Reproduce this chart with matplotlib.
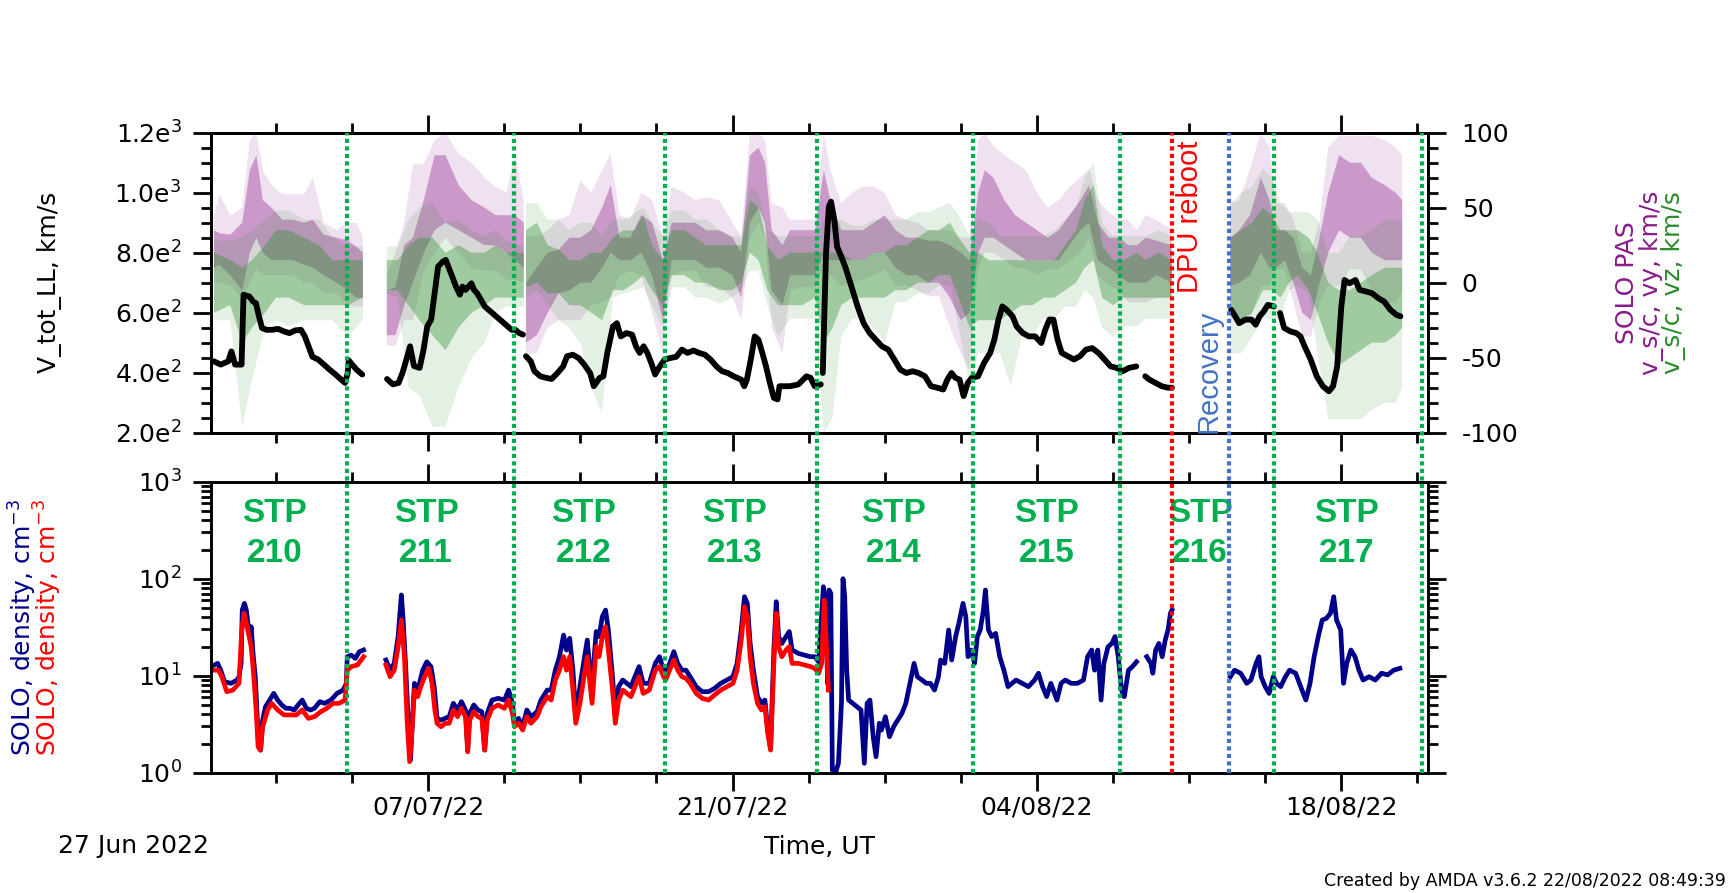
import numpy as np
import matplotlib
matplotlib.use("Agg")
import matplotlib.pyplot as plt
import matplotlib.dates as mdates
from matplotlib.ticker import MultipleLocator, FixedLocator, FuncFormatter, LogLocator, NullFormatter
from matplotlib.transforms import blended_transform_factory
from matplotlib.lines import Line2D

plt.rcParams['font.family'] = ['DejaVu Sans']
plt.rcParams['axes.unicode_minus'] = False

# ---------------- data (day offsets from START) ----------------
START = '2022-06-27'
END = '2022-08-22'

STP_BOUNDS = [6.26, 13.93, 20.89, 27.88, 35.04, 41.82, 48.91, 55.71]
STP_NUMS = [210, 211, 212, 213, 214, 215, 216, 217]
STP_LABEL_DAYS = [2.95, 9.9, 17.15, 24.1, 31.4, 38.45, 45.5, 52.25]
DPU_REBOOT_DAY = 44.2
RECOVERY_DAY = 46.83

# V_tot_LL (km/s): (day, value); None = data gap
VTOT = [
    (0.14, 438), (0.46, 427), (0.81, 438), (0.95, 471), (1.12, 427), (1.30, 427), (1.42, 427), (1.51, 660),
    (1.78, 654), (1.95, 637), (2.08, 632), (2.22, 588), (2.36, 549), (2.57, 543), (2.83, 543), (3.10, 546),
    (3.36, 538), (3.62, 532), (3.89, 541), (4.15, 543), (4.33, 521), (4.50, 488), (4.68, 453), (4.94, 444),
    (5.21, 427), (5.47, 410), (5.74, 394), (6.00, 377), (6.18, 366), (6.30, 399), (6.35, 441), (6.44, 433),
    (6.71, 410), (6.97, 394), None,
    (8.11, 379), (8.38, 361), (8.64, 366), (8.82, 399), (9.00, 444), (9.17, 488), (9.35, 422), (9.61, 416),
    (9.79, 477), (9.96, 554), (10.14, 577), (10.31, 671), (10.46, 754), (10.67, 770), (10.81, 776), (10.93, 754),
    (11.11, 720), (11.28, 687), (11.46, 660), (11.58, 687), (11.72, 676), (11.99, 698), (12.11, 676), (12.25, 665),
    (12.43, 643), (12.60, 621), (12.87, 604), (13.13, 588), (13.40, 571), (13.66, 554), (13.84, 543), (14.01, 543),
    (14.19, 532), (14.36, 527), None,
    (14.50, 455), (14.72, 438), (14.89, 405), (15.16, 388), (15.42, 383), (15.68, 379), (15.95, 399), (16.21, 421),
    (16.39, 455), (16.65, 460), (16.92, 449), (17.18, 427), (17.45, 399), (17.62, 355), (17.89, 383), (18.06, 388),
    (18.24, 466), (18.50, 554), (18.68, 565), (18.86, 521), (19.12, 532), (19.38, 527), (19.56, 488), (19.73, 466),
    (19.91, 488), (20.08, 466), (20.26, 433), (20.44, 394), (20.61, 416), (20.88, 444), (21.14, 449), (21.41, 453),
    (21.67, 477), (21.93, 466), (22.20, 474), (22.46, 466), (22.73, 460), (22.99, 444), (23.26, 421), (23.52, 405),
    (23.78, 399), (24.05, 388), (24.40, 377), (24.54, 355), (24.66, 377), (24.84, 444), (25.02, 521), (25.19, 510),
    (25.37, 466), (25.54, 421), (25.72, 366), (25.90, 316), (26.07, 311), (26.16, 355), (26.34, 355), (26.65, 355),
    (27.03, 361), (27.40, 388), (27.59, 383), (27.78, 355), (28.06, 361), None,
    (28.15, 399), (28.30, 798), (28.43, 953), (28.53, 970), (28.68, 909), (28.81, 820), (29.00, 787), (29.18, 754),
    (29.47, 687), (29.75, 621), (30.03, 565), (30.31, 532), (30.59, 510), (30.87, 488), (31.16, 477), (31.44, 444),
    (31.72, 410), (32.00, 399), (32.28, 405), (32.56, 399), (32.85, 388), (33.13, 355), (33.41, 350), (33.69, 344),
    (33.88, 377), (34.07, 399), (34.25, 383), (34.44, 377), (34.63, 322), (34.82, 366), (35.01, 383), (35.29, 388),
    (35.57, 433), (35.85, 466), (36.04, 510), (36.23, 577), (36.41, 621), (36.60, 610), (36.88, 588), (37.07, 554),
    (37.35, 532), (37.63, 521), (37.92, 521), (38.20, 499), (38.38, 543), (38.57, 577), (38.76, 577), (38.95, 510),
    (39.14, 466), (39.42, 455), (39.70, 444), (39.98, 455), (40.26, 477), (40.54, 482), (40.83, 466), (41.11, 444),
    (41.39, 421), (41.67, 416), (41.95, 405), (42.23, 416), (42.57, 421), None,
    (42.98, 388), (43.17, 377), (43.45, 366), (43.74, 355), (44.02, 350), (44.21, 350), None,
    (46.93, 610), (47.12, 588), (47.30, 565), (47.59, 577), (47.87, 577), (48.06, 560), (48.24, 588), (48.43, 604),
    (48.62, 626), (48.90, 621), None,
    (49.18, 599), (49.37, 549), (49.65, 538), (49.93, 532), (50.12, 521), (50.31, 488), (50.59, 444), (50.87, 388),
    (51.15, 355), (51.43, 338), (51.62, 355), (51.81, 421), (52.00, 621), (52.15, 709), (52.37, 698), (52.65, 709),
    (52.84, 676), (53.12, 671), (53.41, 665), (53.69, 649), (53.97, 637), (54.25, 610), (54.53, 593), (54.72, 588),
]

# SOLO PAS vy (km/s): (day, core_lo, core_hi, extreme_lo, extreme_hi)
VY_BANDS = [
    (0.15, 10, 35, 0, 45), (0.4, 12, 33, 0, 59), (0.9, 5, 32, -2, 45), (1.45, -5, 40, -10, 50),
    (1.8, 20, 75, 0, 95), (2.1, 30, 85, 10, 100), (2.4, 20, 55, 5, 75), (2.8, 15, 50, 5, 65),
    (3.3, 15, 42, 5, 59), (3.8, 15, 42, 5, 59), (4.3, 12, 40, 0, 59), (4.7, 10, 42, 0, 70),
    (5.2, 5, 32, -7, 40), (5.8, 0, 30, -7, 35), (6.3, -5, 28, -15, 40), (6.7, -10, 24, -16, 40),
    (7.0, -10, 20, -16, 30), None,
    (8.1, -35, -5, -42, 5), (8.5, -35, -3, -42, 20), (8.9, -15, 25, -25, 40), (9.3, 0, 30, -25, 79),
    (9.8, 20, 55, 8, 79), (10.3, 35, 85, 20, 95), (10.8, 40, 85, 30, 100), (11.4, 35, 65, 20, 86),
    (12.0, 30, 55, 10, 80), (12.6, 25, 50, 8, 70), (13.1, 25, 45, 8, 64), (13.6, 20, 45, 2, 60),
    (14.0, 15, 45, 2, 86), (14.4, 10, 40, 0, 55), None,
    (14.5, -40, 0, -47, 31), (15.0, -35, 10, -47, 31), (15.5, -20, 20, -30, 35), (16.0, -7, 22, -25, 42),
    (16.5, -5, 30, -25, 45), (17.0, 0, 30, -25, 68), (17.5, 0, 35, -15, 60), (18.0, 10, 50, -13, 75),
    (18.4, 20, 65, -10, 86), (18.8, 15, 30, 5, 45), (19.3, 15, 30, 8, 42), (19.8, 20, 45, 5, 60),
    (20.3, 5, 40, -20, 55), (20.8, -25, 15, -47, 31), (21.2, 15, 40, 5, 64), (21.8, 15, 40, 8, 60),
    (22.3, 15, 40, 8, 55), (22.8, 10, 35, -3, 57), (23.4, 10, 35, -3, 55), (24.0, 5, 30, -10, 40),
    (24.4, -10, 20, -25, 31), (24.8, 40, 85, 30, 100), (25.2, 50, 90, 40, 100), (25.5, 40, 80, 30, 95),
    (25.8, -5, 35, -30, 53), (26.3, -15, 25, -47, 50), (26.65, 5, 35, -5, 42), (27.2, 5, 35, -3, 42),
    (27.8, 5, 35, -3, 42), (28.2, 20, 75, 10, 100), (28.5, 15, 55, 5, 75), (29.0, 15, 35, -2, 53),
    (29.5, 15, 35, 0, 60), (30.0, 15, 35, 2, 64), (30.5, 20, 40, 5, 64), (31.0, 20, 45, 9, 60),
    (31.5, 10, 35, -2, 45), (32.0, 5, 30, -2, 42), (32.5, 5, 30, -5, 40), (33.0, 0, 28, -9, 35),
    (33.5, 0, 28, -9, 35), (34.0, -10, 25, -30, 35), (34.5, -25, 20, -47, 30), (34.9, -20, 15, -58, 30),
    (35.3, 20, 60, 10, 95), (35.6, 30, 75, 20, 100), (36.0, 30, 70, 20, 91), (36.5, 25, 55, 15, 85),
    (37.0, 20, 45, 10, 80), (37.5, 15, 40, 9, 75), (38.0, 15, 35, 5, 60), (38.5, 15, 30, 9, 50),
    (39.0, 15, 35, 9, 55), (39.5, 25, 45, 15, 64), (40.0, 35, 55, 20, 70), (40.4, 40, 65, 30, 76),
    (40.8, 15, 40, 5, 55), (41.3, 10, 30, -2, 47), (41.8, 5, 30, -5, 42), (42.2, 0, 25, -13, 42),
    (42.6, 0, 25, -13, 35), (43.0, 0, 30, -13, 45), (43.5, 5, 28, -10, 42), (44.2, 0, 25, -10, 35), None,
    (46.9, -2, 30, -24, 53), (47.3, 0, 35, -24, 55), (47.8, 5, 45, -24, 76), (48.3, 20, 70, -2, 100),
    (48.7, 10, 55, -2, 90), (49.0, 10, 35, 9, 53), (49.4, 15, 35, 9, 53), (49.8, 0, 30, -13, 42),
    (50.2, -20, 10, -36, 20), (50.6, -25, 5, -36, 20), (51.0, 0, 30, -13, 42), (51.4, 20, 60, -2, 90),
    (51.9, 35, 85, -2, 98), (52.4, 30, 80, 9, 98), (52.9, 30, 80, 9, 98), (53.4, 20, 70, -5, 98),
    (54.0, 15, 65, -13, 95), (54.5, 15, 60, -13, 90), (54.8, 15, 55, -5, 85),
]

# SOLO PAS vz (km/s): (day, core_lo, core_hi, extreme_lo, extreme_hi)
VZ_BANDS = [
    (0.15, -20, 20, -25, 28), (0.9, -15, 15, -25, 28), (1.45, -40, 10, -96, 31), (1.9, -30, 15, -65, 35),
    (2.5, -20, 25, -29, 42), (3.0, -10, 35, -25, 48), (3.6, -10, 35, -29, 48), (4.3, -15, 30, -25, 42),
    (5.0, -15, 25, -25, 42), (5.6, -15, 15, -25, 30), (6.3, -15, 15, -36, 24), (7.0, -10, 15, -25, 24), None,
    (8.1, -5, 15, -7, 24), (8.6, -5, 15, -10, 24), (9.1, -15, 25, -70, 42), (9.6, -25, 30, -75, 50),
    (10.2, -35, 30, -96, 53), (10.8, -45, 20, -96, 40), (11.4, -30, 25, -70, 42), (12.0, -20, 20, -50, 35),
    (12.6, -15, 20, -40, 31), (13.1, -10, 25, -20, 35), (13.6, -10, 20, -16, 28), (14.4, -10, 20, -16, 24), None,
    (14.5, -3, 35, -10, 53), (15.0, 0, 40, -5, 53), (15.5, -7, 25, -15, 42), (16.0, -7, 22, -25, 42),
    (16.5, -15, 15, -30, 35), (17.0, -15, 15, -40, 40), (17.5, -20, 20, -70, 40), (18.0, -25, 20, -87, 31),
    (18.5, -5, 30, -10, 42), (19.0, -5, 35, -7, 42), (19.5, 0, 35, -5, 46), (19.9, 5, 45, -3, 50),
    (20.3, -5, 25, -15, 40), (20.8, -15, 15, -30, 31), (21.2, 5, 35, -3, 48), (21.8, 5, 35, -3, 48),
    (22.3, 0, 30, -10, 42), (22.8, 0, 25, -10, 42), (23.4, -5, 25, -14, 35), (24.0, -5, 25, -10, 31),
    (24.4, 0, 25, -5, 31), (24.8, 20, 55, 8, 64), (25.2, 15, 50, 8, 60), (25.6, -5, 25, -15, 35),
    (26.1, -15, 15, -36, 31), (26.65, -15, 20, -24, 31), (27.2, -15, 20, -24, 31), (27.8, -10, 20, -24, 31),
    (28.2, -40, 20, -100, 42), (28.6, -30, 20, -90, 42), (29.0, -15, 20, -36, 42), (29.5, -10, 15, -24, 38),
    (30.0, -10, 15, -24, 38), (30.5, -10, 20, -30, 42), (31.0, -10, 20, -40, 42), (31.5, -5, 25, -13, 42),
    (32.0, -5, 25, -13, 42), (32.5, 0, 30, -7, 47), (33.0, 0, 35, -7, 47), (33.5, 5, 35, -2, 50),
    (34.0, 5, 40, -2, 53), (34.4, -10, 30, -30, 45), (34.9, -30, 20, -69, 31), (35.3, -25, 20, -47, 42),
    (35.8, -25, 15, -47, 40), (36.3, -25, 15, -47, 31), (36.8, -20, 15, -69, 31), (37.3, -15, 15, -36, 31),
    (37.8, -15, 15, -36, 31), (38.3, -10, 15, -24, 31), (38.8, -10, 15, -24, 35), (39.3, -5, 25, -16, 42),
    (39.8, 0, 35, -16, 50), (40.2, 10, 55, -5, 70), (40.6, 15, 65, -10, 80), (41.0, -10, 25, -30, 40),
    (41.5, -15, 15, -36, 31), (42.0, -10, 15, -29, 31), (42.6, -10, 20, -29, 31), (43.0, -10, 15, -24, 31),
    (43.6, -10, 20, -24, 35), (44.2, -10, 15, -24, 31), None,
    (46.9, -20, 30, -47, 53), (47.4, -25, 35, -47, 60), (47.9, -20, 40, -36, 64), (48.4, -5, 50, -24, 76),
    (48.8, -5, 45, -24, 70), (49.2, -10, 35, -24, 53), (49.6, 0, 35, -5, 47), (50.0, 5, 35, -2, 47),
    (50.5, -5, 30, -7, 47), (50.9, -20, 20, -47, 42), (51.4, -40, 0, -91, 20), (51.9, -55, -5, -91, 20),
    (52.4, -50, -5, -91, 31), (52.9, -45, 0, -91, 31), (53.4, -40, 5, -85, 35), (54.0, -40, 10, -80, 42),
    (54.5, -35, 10, -80, 42), (54.8, -30, 10, -70, 40),
]

# SOLO density (cm^-3), blue series: (day, n)
DENS_BLUE = [
    (0.17, 12.9), (0.32, 13.4), (0.46, 11.4), (0.64, 8.67), (0.93, 8.34), (1.21, 9.02), (1.30, 9.77), (1.40, 13.4),
    (1.45, 47.5), (1.55, 55.7), (1.64, 47.5), (1.73, 32.0), (1.83, 27.3), (1.86, 32.0), (1.96, 15.7), (2.05, 9.77),
    (2.11, 5.19), (2.20, 2.00), (2.30, 1.71), (2.39, 3.49), (2.52, 4.79), (2.71, 5.61), (2.90, 6.57), (3.08, 5.61),
    (3.27, 4.99), (3.46, 4.61), (3.65, 4.61), (3.84, 4.43), (4.02, 4.99), (4.21, 5.61), (4.40, 4.61), (4.59, 4.43),
    (4.77, 4.61), (5.02, 5.40), (5.24, 5.19), (5.53, 5.61), (5.81, 6.57), (6.09, 7.11), (6.24, 8.34), (6.28, 15.7),
    (6.46, 16.3), (6.65, 15.1), (6.84, 17.7), (7.03, 18.4), None,
    (8.06, 14.5), (8.25, 11.4), (8.44, 13.4), (8.62, 25.3), (8.77, 68.0), (8.85, 37.5), (8.96, 13.4), (9.09, 3.23),
    (9.19, 1.35), (9.28, 3.49), (9.37, 8.34), (9.47, 7.11), (9.60, 8.34), (9.75, 11.4), (9.94, 13.9), (10.13, 12.4),
    (10.28, 7.71), (10.41, 3.63), (10.59, 3.49), (10.78, 3.63), (10.97, 3.78), (11.16, 5.19), (11.35, 4.43),
    (11.53, 5.40), (11.72, 4.43), (11.82, 1.71), (11.91, 4.09), (12.10, 4.99), (12.29, 4.43), (12.47, 4.25),
    (12.60, 1.71), (12.72, 4.09), (12.94, 5.61), (13.22, 5.84), (13.51, 5.61), (13.70, 7.11), (13.88, 5.19),
    (13.97, 3.23), (14.16, 3.63), (14.35, 2.98), (14.54, 4.43), (14.73, 3.78), (15.01, 4.25), (15.19, 5.61),
    (15.48, 7.11), (15.66, 7.11), (15.85, 11.4), (16.04, 15.7), (16.23, 26.2), (16.36, 18.4), (16.51, 24.3),
    (16.66, 11.4), (16.79, 3.78), (16.98, 7.71), (17.17, 14.5), (17.32, 23.3), (17.41, 13.4), (17.54, 8.34),
    (17.73, 28.5), (17.86, 25.3), (18.01, 40.6), (18.16, 47.5), (18.29, 29.6), (18.48, 9.77), (18.61, 3.78),
    (18.76, 7.71), (18.95, 9.02), (19.14, 8.34), (19.33, 7.71), (19.51, 9.77), (19.70, 12.4), (19.89, 8.34),
    (20.17, 8.34), (20.45, 13.4), (20.64, 15.7), (20.83, 11.4), (20.92, 10.6), (21.11, 13.4), (21.30, 17.7),
    (21.48, 13.4), (21.67, 11.4), (21.86, 11.4), (22.05, 9.77), (22.33, 7.71), (22.61, 6.84), (22.90, 6.84),
    (23.17, 7.39), (23.46, 8.34), (23.74, 9.02), (24.02, 9.77), (24.21, 13.4), (24.40, 29.6), (24.55, 65.2),
    (24.68, 55.7), (24.81, 21.5), (24.96, 11.4), (25.15, 6.08), (25.33, 5.19), (25.49, 5.61), (25.62, 2.75),
    (25.75, 1.78), (25.90, 18.4), (26.01, 57.9), (26.12, 25.3), (26.27, 21.5), (26.46, 25.3), (26.61, 28.5),
    (26.74, 18.4), (27.02, 17.0), (27.31, 16.3), (27.59, 15.7), (27.78, 15.7), (27.96, 13.9), (28.18, 82.7),
    (28.29, 55.7), (28.37, 8.34), (28.44, 76.4), (28.52, 70.6), (28.59, 1.06), (28.74, 1.0), (28.87, 1.25),
    (29.01, 5.19), (29.08, 100), (29.16, 65.2), (29.25, 11.4), (29.34, 5.61), (29.53, 5.19), (29.72, 4.79),
    (29.91, 4.43), (30.06, 1.25), (30.19, 5.19), (30.32, 5.61), (30.47, 2.35), (30.60, 1.46), (30.75, 3.23),
    (30.85, 2.75), (31.03, 3.78), (31.22, 2.35), (31.41, 2.98), (31.60, 3.49), (31.79, 4.09), (31.97, 5.19),
    (32.16, 8.34), (32.35, 13.4), (32.50, 9.77), (32.72, 9.02), (32.91, 8.34), (33.10, 8.34), (33.29, 7.11),
    (33.47, 9.77), (33.57, 14.5), (33.76, 13.4), (33.94, 29.6), (34.08, 14.5), (34.26, 25.3), (34.41, 34.7),
    (34.60, 55.7), (34.73, 40.6), (34.83, 15.7), (34.98, 18.4), (35.13, 13.4), (35.26, 25.3), (35.39, 29.6),
    (35.54, 47.5), (35.63, 76.4), (35.77, 29.6), (35.92, 25.3), (36.10, 27.3), (36.29, 15.7), (36.48, 11.4),
    (36.67, 7.71), (36.85, 8.34), (37.04, 9.02), (37.32, 8.34), (37.61, 7.71), (37.89, 9.02), (38.07, 10.6),
    (38.26, 7.71), (38.45, 6.08), (38.64, 8.34), (38.92, 5.61), (39.11, 8.34), (39.30, 9.02), (39.58, 8.34),
    (39.86, 8.34), (40.14, 9.02), (40.33, 15.7), (40.52, 18.4), (40.65, 11.4), (40.80, 18.4), (40.95, 5.61),
    (41.08, 13.4), (41.27, 19.9), (41.45, 21.5), (41.59, 25.3), (41.74, 15.7), (41.89, 7.11), (42.02, 6.08),
    (42.21, 11.4), (42.39, 12.4), (42.58, 13.9), None,
    (43.05, 15.7), (43.24, 13.4), (43.33, 10.6), (43.46, 18.4), (43.61, 21.5), (43.76, 15.7), (43.90, 23.3),
    (44.03, 29.6), (44.14, 44.0), (44.21, 47.5), None,
    (46.90, 9.77), (47.09, 11.4), (47.37, 10.6), (47.65, 8.34), (47.84, 9.02), (48.08, 13.4), (48.21, 15.7),
    (48.31, 9.77), (48.50, 7.71), (48.68, 6.57), (48.87, 9.77), (49.02, 8.34), (49.21, 7.71), (49.43, 9.77),
    (49.62, 11.4), (49.90, 10.6), (50.19, 7.11), (50.37, 5.61), (50.56, 8.34), (50.75, 15.7), (50.94, 25.3),
    (51.12, 37.5), (51.31, 39.0), (51.50, 44.0), (51.65, 65.2), (51.78, 37.5), (51.97, 29.6), (52.10, 8.34),
    (52.25, 13.4), (52.44, 18.4), (52.63, 15.7), (52.81, 11.4), (53.00, 9.02), (53.28, 9.77), (53.56, 9.02),
    (53.85, 10.6), (54.13, 10.2), (54.41, 11.4), (54.69, 11.9),
]

# SOLO density (cm^-3), red series: (day, n)
DENS_RED = [
    (0.17, 11.4), (0.36, 11.4), (0.51, 9.77), (0.74, 6.84), (1.02, 7.11), (1.30, 8.34), (1.43, 29.6), (1.53, 44.0),
    (1.64, 34.7), (1.77, 25.3), (1.86, 19.9), (1.96, 11.4), (2.09, 4.43), (2.18, 1.85), (2.28, 1.71), (2.39, 2.98),
    (2.62, 4.43), (2.80, 5.19), (3.08, 4.43), (3.37, 3.94), (3.65, 3.94), (3.93, 3.94), (4.21, 4.43), (4.49, 3.63),
    (4.77, 3.78), (5.06, 4.25), (5.34, 4.61), (5.62, 5.19), (5.90, 5.19), (6.18, 5.61), (6.28, 11.4), (6.46, 12.4),
    (6.75, 12.9), (7.03, 15.7), None,
    (8.06, 12.9), (8.25, 9.77), (8.44, 11.4), (8.62, 19.9), (8.77, 37.5), (8.91, 15.7), (9.04, 3.23), (9.15, 1.30),
    (9.28, 3.23), (9.37, 7.11), (9.52, 6.08), (9.66, 7.71), (9.84, 9.77), (10.03, 11.9), (10.18, 8.34), (10.31, 4.43),
    (10.41, 3.23), (10.59, 2.98), (10.78, 3.23), (10.97, 3.23), (11.16, 4.43), (11.35, 3.78), (11.53, 4.61),
    (11.72, 3.78), (11.82, 1.64), (11.91, 3.49), (12.10, 4.25), (12.29, 3.78), (12.47, 3.63), (12.60, 1.71),
    (12.72, 3.49), (12.94, 4.61), (13.22, 4.99), (13.51, 4.61), (13.70, 5.61), (13.88, 4.09), (13.97, 2.98),
    (14.16, 3.23), (14.35, 2.75), (14.54, 3.78), (14.73, 3.23), (15.01, 3.78), (15.19, 4.79), (15.48, 6.08),
    (15.66, 5.61), (15.85, 9.02), (16.04, 11.4), (16.23, 15.7), (16.36, 11.4), (16.51, 15.7), (16.66, 7.11),
    (16.79, 3.23), (16.98, 5.19), (17.17, 9.77), (17.32, 15.7), (17.41, 9.77), (17.54, 5.19), (17.73, 19.9),
    (17.86, 15.7), (18.01, 25.3), (18.16, 32.0), (18.29, 18.4), (18.48, 7.11), (18.61, 3.23), (18.76, 5.61),
    (18.95, 7.11), (19.14, 6.57), (19.33, 6.08), (19.51, 7.71), (19.70, 9.77), (19.89, 6.57), (20.17, 7.11),
    (20.45, 11.4), (20.64, 12.4), (20.83, 9.77), (20.92, 9.02), (21.11, 11.4), (21.30, 14.5), (21.48, 11.4),
    (21.67, 9.77), (21.86, 9.40), (22.05, 8.34), (22.33, 6.57), (22.61, 5.84), (22.90, 5.61), (23.17, 6.32),
    (23.46, 7.11), (23.74, 7.71), (24.02, 8.34), (24.21, 11.4), (24.40, 23.3), (24.55, 51.4), (24.68, 40.6),
    (24.81, 15.7), (24.96, 8.34), (25.15, 5.19), (25.33, 4.43), (25.49, 4.79), (25.62, 2.55), (25.75, 1.71),
    (25.90, 13.4), (26.01, 44.0), (26.12, 19.9), (26.27, 15.7), (26.46, 18.4), (26.61, 19.9), (26.74, 13.4),
    (27.02, 13.4), (27.31, 12.9), (27.59, 12.4), (27.78, 11.9), (27.96, 10.6), (28.10, 13.4), (28.22, 60.3),
    (28.31, 21.5), (28.41, 7.11),
]

# ---------------- helpers ----------------
def columns(rows, n):
    cols = [[] for _ in range(n)]
    for r in rows:
        if r is None:
            for c in cols:
                c.append(np.nan)
        else:
            for c, v in zip(cols, r):
                c.append(v)
    return [np.array(c, dtype=float) for c in cols]

t0 = mdates.datestr2num(START)
t1 = mdates.datestr2num(END)

PURPLE = '#8b1a8b'
GREEN = '#2a8c2a'
STP_GREEN = '#00b050'
NAVY = '#00008b'
RED = '#ff0000'
REC_BLUE = '#4472c4'

W, H = 1729, 893
fig = plt.figure(figsize=(W / 100, H / 100), dpi=100)
L, R = 210.7 / W, 1428.3 / W
ax1 = fig.add_axes([L, 1 - 432.7 / H, R - L, 300 / H])
ax1r = ax1.twinx()
ax2 = fig.add_axes([L, 1 - 772.7 / H, R - L, 291 / H])
ax1.set_zorder(ax1r.get_zorder() + 1)
ax1.patch.set_visible(False)

# ----- clouds (right axis) -----
for bands, col in ((VY_BANDS, PURPLE), (VZ_BANDS, GREEN)):
    d, clo, chi, elo, ehi = columns(bands, 5)
    ax1r.fill_between(t0 + d, elo, ehi, color=col, alpha=0.13, lw=0)
    ax1r.fill_between(t0 + d, clo, chi, color=col, alpha=0.36, lw=0)

# ----- V_tot (left axis) -----
d, v = columns(VTOT, 2)
ax1.plot(t0 + d, v, color='black', lw=4.2, solid_joinstyle='round', solid_capstyle='round')

# ----- density -----
d, n = columns(DENS_BLUE, 2)
ax2.plot(t0 + d, n, color=NAVY, lw=3.4, solid_joinstyle='round')
d, n = columns(DENS_RED, 2)
ax2.plot(t0 + d, n, color=RED, lw=3.4, solid_joinstyle='round')

# ----- axes setup -----
ax1.set_xlim(t0, t1)
ax2.set_xlim(t0, t1)
ax1.set_ylim(200, 1200)
ax1r.set_ylim(-100, 100)
ax2.set_yscale('log')
ax2.set_ylim(1, 1000)

SPINE_W = 2.1
for ax in (ax1, ax1r, ax2):
    for s in ax.spines.values():
        s.set_linewidth(SPINE_W)
        s.set_color('black')

tick_kw = dict(direction='out', width=2.0, color='black', labelsize=18)
for ax in (ax1, ax2):
    ax.xaxis.set_major_locator(MultipleLocator(14))
    ax.xaxis.set_minor_locator(MultipleLocator(3.5))
    ax.xaxis.set_major_formatter(mdates.DateFormatter('%d/%m/%y'))
    ax.tick_params(axis='x', which='major', length=13, top=True, bottom=True, pad=3.5, **tick_kw)
    ax.tick_params(axis='x', which='minor', length=7, top=True, bottom=True, **tick_kw)
ax1.tick_params(axis='x', which='both', labelbottom=False)

def sci_fmt(v, pos):
    e = int(np.floor(np.log10(v)))
    m = v / 10 ** e
    return r'$\mathdefault{%.1fe^{%d}}$' % (m, e)

ax1.yaxis.set_major_locator(FixedLocator([200, 400, 600, 800, 1000, 1200]))
ax1.yaxis.set_minor_locator(MultipleLocator(50))
ax1.yaxis.set_major_formatter(FuncFormatter(sci_fmt))
ax1.tick_params(axis='y', which='major', length=13, left=True, right=False, pad=8, **tick_kw)
ax1.tick_params(axis='y', which='minor', length=7, left=True, right=False, **tick_kw)

ax1r.yaxis.set_major_locator(MultipleLocator(50))
ax1r.yaxis.set_minor_locator(MultipleLocator(10))
ax1r.yaxis.set_major_formatter(FuncFormatter(lambda v, p: '%d' % v))
ax1r.tick_params(axis='y', which='major', length=13, right=True, left=False, pad=11, **tick_kw)
ax1r.tick_params(axis='y', which='minor', length=7, right=True, left=False, **tick_kw)

ax2.yaxis.set_major_locator(LogLocator(base=10, numticks=10))
ax2.yaxis.set_minor_locator(LogLocator(base=10, subs=np.arange(2, 10), numticks=10))
ax2.yaxis.set_minor_formatter(NullFormatter())
ax2.tick_params(axis='y', which='major', length=13, left=True, right=True, pad=8, **tick_kw)
ax2.tick_params(axis='y', which='minor', length=7, left=True, right=True, **tick_kw)

# ----- vertical event lines spanning both panels -----
trans = blended_transform_factory(ax2.transData, fig.transFigure)
y_lo, y_hi = 1 - 772.7 / H, 1 - 132.7 / H
for dday in STP_BOUNDS:
    fig.add_artist(Line2D([t0 + dday] * 2, [y_lo, y_hi], transform=trans, color=STP_GREEN,
                          lw=3.0, ls=(0, (1, 0.8)), zorder=5))
fig.add_artist(Line2D([t0 + DPU_REBOOT_DAY] * 2, [y_lo, y_hi], transform=trans, color=RED,
                      lw=3.0, ls=(0, (1, 0.8)), zorder=5))
fig.add_artist(Line2D([t0 + RECOVERY_DAY] * 2, [y_lo, y_hi], transform=trans, color=REC_BLUE,
                      lw=3.0, ls=(0, (1, 0.8)), zorder=5))

# ----- annotations -----
tr1 = blended_transform_factory(ax1.transData, ax1.transAxes)
ax1.text(t0 + DPU_REBOOT_DAY + 0.2, 0.975, 'DPU reboot', transform=tr1, rotation=90, ha='left', va='top',
         color=RED, fontsize=21, family=['Liberation Sans', 'DejaVu Sans'], zorder=6)
ax1.text(t0 + RECOVERY_DAY - 0.27, 0.0, 'Recovery', transform=tr1, rotation=90, ha='right', va='bottom',
         color=REC_BLUE, fontsize=21, family=['Liberation Sans', 'DejaVu Sans'], zorder=6)

tr2 = blended_transform_factory(ax2.transData, ax2.transAxes)
for num, dday in zip(STP_NUMS, STP_LABEL_DAYS):
    ax2.text(t0 + dday, 0.8615, 'STP', transform=tr2, ha='center', va='baseline', color=STP_GREEN,
             fontsize=24, fontweight='bold', family=['Liberation Sans', 'DejaVu Sans'], zorder=6)
    ax2.text(t0 + dday, 0.724, str(num), transform=tr2, ha='center', va='baseline', color=STP_GREEN,
             fontsize=24, fontweight='bold', family=['Liberation Sans', 'DejaVu Sans'], zorder=6)

# ----- axis labels / texts -----
fig.text(50 / W, 1 - 282.7 / H, 'V_tot_LL, km/s', rotation=90, ha='center', va='center', fontsize=18)
fig.text(1627 / W, 1 - 282.7 / H, 'SOLO PAS', rotation=90, ha='center', va='center', fontsize=18, color=PURPLE)
fig.text(1651 / W, 1 - 282.7 / H, 'v_s/c, vy, km/s', rotation=90, ha='center', va='center', fontsize=18, color=PURPLE)
fig.text(1674 / W, 1 - 282.7 / H, 'v_s/c, vz, km/s', rotation=90, ha='center', va='center', fontsize=18, color=GREEN)
fig.text(23 / W, 1 - 627 / H, r'SOLO, density, cm$^{-3}$', rotation=90, ha='center', va='center', fontsize=18, color=NAVY)
fig.text(48 / W, 1 - 627 / H, r'SOLO, density, cm$^{-3}$', rotation=90, ha='center', va='center', fontsize=18, color=RED)
fig.text(209 / W, 1 - 846 / H, '27 Jun 2022', ha='right', va='center', fontsize=18)
fig.text(819.5 / W, 1 - 847 / H, 'Time, UT', ha='center', va='center', fontsize=18)
fig.text(1726 / W, 1 - 881.5 / H, 'Created by AMDA v3.6.2 22/08/2022 08:49:39', ha='right', va='center', fontsize=12.5)

fig.savefig('out.png', dpi=100)
